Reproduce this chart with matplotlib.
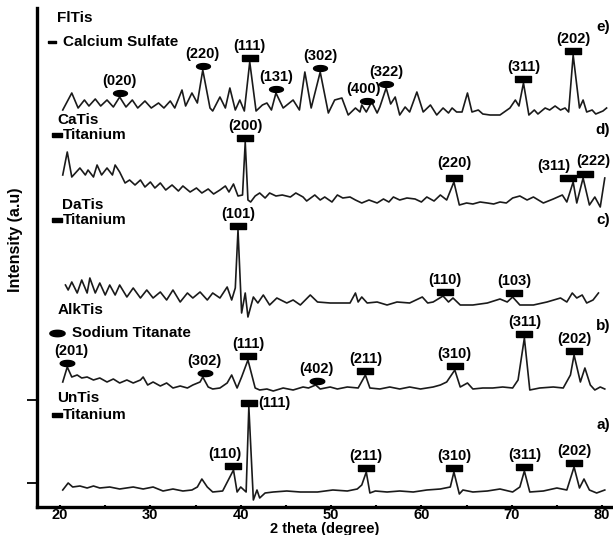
import numpy as np
import matplotlib.pyplot as plt

plt.rcParams['font.family'] = ['Liberation Sans', 'DejaVu Sans']
plt.rcParams['font.weight'] = 'bold'

# XRD patterns: [2 theta (deg), intensity above own baseline (a.u.)]
untis = np.array([
    [20.3, 1], [20.9, 8], [21.4, 4], [22.2, 5], [23.0, 3], [23.7, 5], [24.4, 3], [25.5, 4],
    [26.6, 2], [28.1, 4], [29.2, 2], [30.3, 4], [31.4, 0], [32.5, 2], [33.6, 0], [34.6, 1],
    [35.2, 4], [35.7, 12], [36.3, 4], [36.9, -1], [38.0, 0], [39.2, 21], [39.6, -1], [40.0, 4],
    [40.6, -1], [40.9, 84], [41.4, -9], [41.8, 1], [42.1, -7], [42.7, -2], [43.6, -1], [45.1, 0],
    [46.6, -1], [48.5, -1], [50.2, 1], [51.8, 0], [52.9, 2], [53.4, 6], [53.9, 19], [54.3, -2],
    [54.9, 0], [56.2, -1], [57.6, 0], [59.1, -1], [60.6, 1], [62.1, 2], [63.2, 4], [63.6, 19],
    [64.2, -3], [64.6, 1], [65.7, -1], [67.3, 0], [68.7, 2], [70.1, -1], [70.9, 4], [71.4, 20],
    [72.0, -1], [73.5, 0], [75.0, 3], [76.1, 1], [76.9, 24], [77.5, 3], [78.0, 12], [78.6, 1],
    [79.4, -2], [80.3, 1]])

alktis = np.array([
    [20.3, 8], [20.8, 23], [21.3, 13], [21.9, 15], [22.4, 12], [23.0, 13], [23.7, 10], [24.4, 12],
    [25.2, 8], [25.9, 11], [26.6, 7], [27.4, 10], [28.1, 7], [28.9, 10], [29.2, 13], [29.7, 5],
    [30.3, 8], [31.1, 4], [31.8, 7], [32.5, 2], [33.3, 4], [34.1, 2], [34.7, 5], [35.5, 8],
    [35.8, 13], [36.4, 3], [36.9, 1], [37.7, 2], [38.5, 7], [39.0, 15], [39.6, 2], [40.1, 13],
    [40.8, 30], [41.6, 2], [42.1, 0], [42.9, 1], [43.6, -1], [44.7, 2], [45.8, 0], [46.9, 3],
    [47.5, 2], [48.3, 5], [48.8, 1], [49.9, 3], [50.7, 1], [51.8, 3], [53.0, 2], [53.8, 15],
    [54.3, 2], [55.4, 1], [56.5, 3], [57.6, 1], [58.7, 3], [59.9, 1], [61.3, 3], [62.1, 5],
    [62.8, 8], [63.7, 20], [64.3, 3], [65.1, 7], [65.7, 1], [66.8, 2], [67.9, 2], [69.0, 3],
    [70.1, 2], [70.7, 10], [71.4, 52], [72.0, 0], [73.1, 2], [74.6, 3], [75.7, 2], [76.5, 15],
    [76.9, 35], [77.6, 8], [78.1, 22], [78.7, 5], [79.2, 0], [79.8, 3], [80.3, 1]])

datis = np.array([
    [20.6, 15], [20.9, 10], [21.3, 18], [21.9, 7], [22.4, 20], [23.0, 7], [23.3, 22], [23.9, 7],
    [24.4, 17], [25.0, 5], [25.5, 15], [26.1, 5], [26.6, 15], [27.4, 3], [28.1, 12], [28.9, 2],
    [29.6, 10], [30.3, 2], [31.1, 8], [31.8, 0], [32.5, 10], [33.3, -2], [34.1, 7], [34.7, 2],
    [35.5, 8], [36.3, 0], [36.9, 7], [37.7, 2], [38.5, 13], [39.0, 0], [39.4, 12], [39.7, 70],
    [40.1, -13], [40.5, 7], [40.8, -17], [41.4, 3], [41.9, -3], [42.5, 5], [43.2, -5], [44.0, 2],
    [45.1, -3], [45.8, 0], [46.6, -5], [47.7, 5], [48.5, -2], [49.9, -3], [51.0, -3], [52.1, -3],
    [52.7, 7], [53.0, -2], [53.4, 3], [54.0, -3], [55.1, -2], [56.2, -5], [57.3, -2], [58.7, -3],
    [60.1, 3], [60.7, -3], [61.3, -2], [62.4, 4], [63.0, -2], [63.5, 2], [64.3, -5], [65.7, -5],
    [67.3, -3], [68.7, 1], [69.5, -2], [70.1, 3], [70.9, -5], [72.4, -5], [73.9, -2], [75.4, 2],
    [76.1, -2], [76.7, 7], [77.2, 2], [77.8, 5], [78.3, -3], [79.0, 0], [79.6, 7]])

catis = np.array([
    [20.3, 30], [20.8, 53], [21.3, 28], [22.2, 37], [22.8, 30], [23.1, 35], [23.7, 28], [24.1, 40],
    [24.6, 30], [25.2, 37], [25.8, 30], [26.1, 40], [26.6, 33], [27.2, 22], [27.7, 25], [28.3, 20],
    [28.9, 25], [29.4, 18], [30.0, 23], [30.5, 17], [31.1, 22], [31.7, 15], [32.4, 20], [33.1, 14],
    [33.6, 19], [34.4, 13], [35.1, 17], [35.7, 12], [36.4, 16], [37.0, 11], [37.7, 15], [38.3, 19],
    [38.7, 13], [39.2, 21], [39.7, 9], [40.2, 10], [40.5, 63], [40.8, 5], [41.1, 3], [41.6, 9],
    [42.1, 12], [42.7, 7], [43.2, 12], [43.9, 9], [44.6, 10], [45.5, 8], [46.1, 12], [46.9, 8],
    [47.3, 4], [48.2, 10], [48.8, 5], [49.3, 8], [50.1, 3], [50.7, 10], [51.3, 7], [52.1, 8],
    [52.7, 5], [53.4, 2], [54.2, 5], [55.1, 2], [55.8, 6], [56.4, 3], [56.9, 8], [57.6, 5],
    [58.4, 7], [59.3, 6], [60.0, 3], [60.6, 8], [61.4, 4], [62.1, 10], [62.8, 5], [63.6, 23],
    [64.2, 0], [65.0, 2], [65.7, 1], [66.5, 3], [67.3, 2], [68.0, 1], [68.7, 3], [69.4, 2],
    [70.1, 7], [70.9, 9], [71.7, 5], [72.4, 8], [73.5, 2], [74.6, 6], [75.6, 10], [76.1, 3],
    [76.8, 23], [77.2, 2], [77.9, 27], [78.6, 0], [79.2, 8], [79.8, -2], [80.3, 27]])

flitis = np.array([
    [20.3, 5], [21.3, 22], [22.0, 7], [22.7, 15], [23.2, 9], [23.9, 16], [24.5, 9], [25.2, 15],
    [25.9, 8], [26.6, 18], [27.3, 8], [28.0, 15], [28.6, 7], [29.4, 14], [30.1, 7], [30.9, 12],
    [31.5, 7], [32.2, 14], [32.7, 7], [33.5, 25], [33.9, 9], [34.6, 22], [35.2, 12], [35.8, 45],
    [36.6, 7], [36.9, 4], [37.7, 18], [38.3, 7], [38.8, 27], [39.4, 5], [39.9, 15], [40.4, 4],
    [41.0, 53], [41.7, 4], [42.4, 10], [42.9, 12], [43.4, 5], [43.9, 22], [44.7, 7], [45.8, 15],
    [46.5, 5], [47.1, 43], [47.8, 7], [48.8, 43], [49.7, 2], [50.4, 15], [51.2, 17], [51.9, 0],
    [52.7, 7], [53.2, 3], [53.4, 10], [53.9, 3], [54.5, 13], [55.1, 2], [55.4, 8], [56.1, 27],
    [56.6, 11], [57.1, 18], [57.6, 0], [58.2, 8], [58.7, 3], [59.5, 23], [60.2, 3], [61.0, 10],
    [61.7, 0], [62.4, 7], [63.0, 2], [63.4, 7], [63.9, 3], [64.5, 3], [65.1, 22], [65.6, 3],
    [66.3, 5], [66.8, 1], [67.6, 0], [68.7, 0], [69.8, 7], [70.4, 15], [70.8, 9], [71.3, 32],
    [71.9, 0], [72.5, 5], [72.9, 1], [73.7, 7], [74.2, 5], [74.8, 9], [75.4, 5], [75.9, 7],
    [76.3, 3], [76.8, 60], [77.5, 7], [77.9, 15], [78.3, 3], [78.9, 5], [79.3, 1], [80.1, 4],
    [80.5, 7]])

# indexed reflections: hkl, 2 theta, phase ('ti' titanium, 'na' sodium titanate, 'cs' calcium sulfate)
untis_hkl = ['(110)', '(111)', '(211)', '(310)', '(311)', '(202)']
untis_pos = [39.2, 40.9, 53.9, 63.6, 71.4, 76.9]
untis_kind = ['ti', 'ti', 'ti', 'ti', 'ti', 'ti']

alktis_hkl = ['(201)', '(302)', '(111)', '(402)', '(211)', '(310)', '(311)', '(202)']
alktis_pos = [20.8, 36.0, 40.8, 48.4, 53.8, 63.7, 71.4, 76.9]
alktis_kind = ['na', 'na', 'ti', 'na', 'ti', 'ti', 'ti', 'ti']

datis_hkl = ['(101)', '(110)', '(103)']
datis_pos = [39.7, 62.6, 70.3]
datis_kind = ['ti', 'ti', 'ti']

catis_hkl = ['(200)', '(220)', '(311)', '(222)']
catis_pos = [40.5, 63.6, 76.8, 77.9]
catis_kind = ['ti', 'ti', 'ti', 'ti']

flitis_hkl = ['(020)', '(220)', '(111)', '(131)', '(302)', '(400)', '(322)', '(311)', '(202)']
flitis_pos = [26.6, 35.8, 41.0, 43.9, 48.8, 53.8, 56.1, 71.3, 76.8]
flitis_kind = ['cs', 'cs', 'ti', 'cs', 'cs', 'cs', 'cs', 'ti', 'ti']

samples = ['UnTis', 'AlkTis', 'DaTis', 'CaTis', 'FlTis']
tags = ['a)', 'b)', 'c)', 'd)', 'e)']
phases = ['Titanium', 'Sodium Titanate', 'Titanium', 'Titanium', 'Calcium Sulfate']
phase_kind = ['ti', 'na', 'ti', 'ti', 'cs']

patterns = [untis, alktis, datis, catis, flitis]
refl = [(untis_hkl, untis_pos, untis_kind), (alktis_hkl, alktis_pos, alktis_kind),
        (datis_hkl, datis_pos, datis_kind), (catis_hkl, catis_pos, catis_kind),
        (flitis_hkl, flitis_pos, flitis_kind)]

# layout --------------------------------------------------------------
offsets = [16, 117, 207, 302, 392]
name_y = [109, 197, 302, 387, 489]
phase_y = [92, 174, 287, 372, 465]
tag_y = [82, 181, 287, 377, 480]
# (marker dx in deg, text dx px, text dy px, ha, va)
tweak = {
    ('UnTis', '(111)'): (0, 9, 0, 'left', 'center'),
    ('UnTis', '(110)'): (0, -9, 5, 'center', 'bottom'),
    ('AlkTis', '(201)'): (0, 4, 5, 'center', 'bottom'),
    ('CaTis', '(311)'): (-0.55, -14, 5, 'center', 'bottom'),
    ('CaTis', '(222)'): (0.2, 8, 6, 'center', 'bottom'),
    ('CaTis', '(220)'): (0, 0, 8, 'center', 'bottom'),
    ('FlTis', '(400)'): (0.2, -4, 5, 'center', 'bottom'),
}

bar = [(-1, -0.4), (1, -0.4), (1, 0.4), (-1, 0.4), (-1, -0.4)]
t = np.linspace(0, 2 * np.pi, 41)
ell = list(zip(np.cos(t), 0.42 * np.sin(t)))
dash = [(-1, -0.35), (1, -0.35), (1, 0.35), (-1, 0.35), (-1, -0.35)]
peak_mark = {'ti': dict(marker=bar, ms=11), 'na': dict(marker=ell, ms=10.5), 'cs': dict(marker=ell, ms=10)}
key_mark = {'ti': dict(marker=[(-1, -0.5), (1, -0.5), (1, 0.5), (-1, 0.5), (-1, -0.5)], ms=7),
            'na': dict(marker=ell, ms=11), 'cs': dict(marker=dash, ms=6)}
key_dx = {'ti': (19.7, 20.35), 'na': (19.7, 21.3), 'cs': (19.1, 20.35)}

fig = plt.figure(figsize=(6.13, 5.35), dpi=100)
ax = fig.add_axes([37 / 613, 28 / 535, 575 / 613, 499 / 535])

for i, pat in enumerate(patterns):
    off = offsets[i]
    ax.plot(pat[:, 0], pat[:, 1] + off, color='#1a1a1a', lw=1.2)
    hkls, pos, kinds = refl[i]
    for h, p, k in zip(hkls, pos, kinds):
        near = np.abs(pat[:, 0] - p) <= 0.6
        top = pat[near, 1].max() + off + 4
        mdx, tdx, tdy, ha, va = tweak.get((samples[i], h), (0, 0, 5, 'center', 'bottom'))
        ax.plot(p + mdx, top, color='black', mec='black', mfc='black', ls='none', **peak_mark[k])
        ax.annotate(h, (p + mdx, top), xytext=(tdx, tdy), textcoords='offset pixels',
                    ha=ha, va=va, fontsize=10.5, fontweight='bold')
    ax.text(19.7 if samples[i] != 'DaTis' else 20.2, name_y[i], samples[i],
            fontsize=11, fontweight='bold', va='center', ha='left')
    mx, tx = key_dx[phase_kind[i]]
    ax.plot(mx, phase_y[i], color='black', ls='none', mfc='black', mec='black', **key_mark[phase_kind[i]])
    ax.text(tx, phase_y[i], phases[i], fontsize=11, fontweight='bold', va='center', ha='left')
    ax.text(80.1, tag_y[i], tags[i], fontsize=11, fontweight='bold', va='center', ha='center')

ax.set_xlim(17.45, 81.1)
ax.set_ylim(0, 499)
for s in ['top', 'right']:
    ax.spines[s].set_visible(False)
for s in ['left', 'bottom']:
    ax.spines[s].set_linewidth(2.4)

ax.set_xticks([20, 30, 40, 50, 60, 70, 80])
ax.set_xticks([25, 35, 45, 55, 65, 75], minor=True)
ax.set_yticks([24, 107])
ax.set_yticklabels([])
ax.tick_params(axis='x', direction='inout', length=3, width=1.5, labelsize=10.5, pad=-1)
ax.tick_params(axis='x', which='minor', direction='inout', length=3, width=1.5)
ax.tick_params(axis='y', direction='out', length=7, width=1.3)
for lab in ax.get_xticklabels():
    lab.set_fontweight('bold')

ax.set_xlabel('2 theta (degree)', fontsize=10.5, fontweight='bold', labelpad=0)
ax.set_ylabel('Intensity (a.u)', fontsize=11.5, fontweight='bold')
ax.yaxis.set_label_coords(-0.025, 0.535)

fig.savefig('out.png', dpi=100, facecolor='white')
